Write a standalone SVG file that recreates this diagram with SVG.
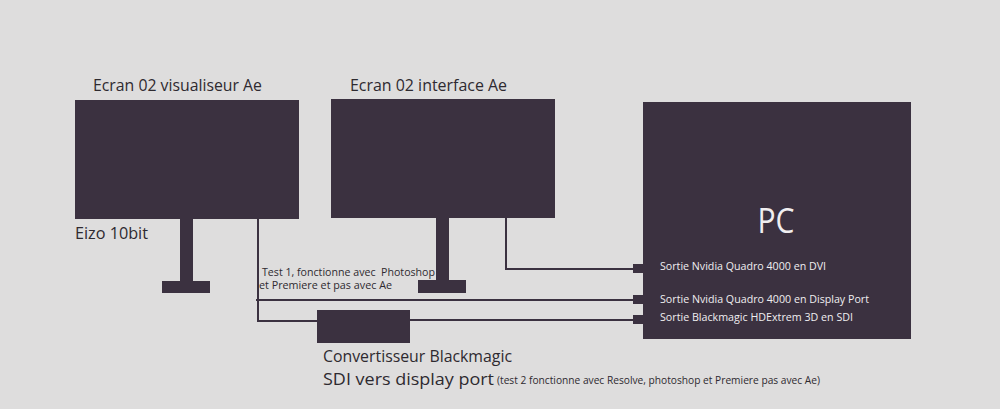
<svg xmlns="http://www.w3.org/2000/svg" width="1000" height="409" viewBox="0 0 1000 409">
<style>
.dk{fill:#3b3140}
.ln{stroke:#3b3140;stroke-width:2;fill:none}
.t{font-family:"Open Sans","Liberation Sans",sans-serif;fill:#2e2a30}
.w{font-family:"Open Sans","Liberation Sans",sans-serif;fill:#f0eef0}
</style>
<rect width="1000" height="409" fill="#dedddd"/>
<g id="connectors">
<polyline class="ln" points="506,218 506,269 634,269"/>
<polyline class="ln" points="256,300 634,300"/>
<polyline class="ln" points="258,219 258,321 318,321"/>
<polyline class="ln" points="409,320 634,320"/>
<rect class="dk" x="633" y="264" width="10" height="9"/>
<rect class="dk" x="633" y="295" width="10" height="9"/>
<rect class="dk" x="633" y="315" width="10" height="9"/>
</g>
<g id="ecran1">
<rect class="dk" x="75" y="100" width="224" height="119"/>
<rect class="dk" x="180" y="219" width="13" height="62"/>
<rect class="dk" x="162" y="281" width="48" height="12"/>
<text class="t" x="93" y="91" font-size="17" textLength="169" lengthAdjust="spacingAndGlyphs">Ecran 02 visualiseur Ae</text>
<text class="t" x="75" y="239" font-size="16" textLength="73" lengthAdjust="spacingAndGlyphs">Eizo 10bit</text>
</g>
<g id="ecran2">
<rect class="dk" x="331" y="99" width="224" height="119"/>
<rect class="dk" x="436" y="218" width="13" height="62"/>
<rect class="dk" x="418" y="280" width="48" height="13"/>
<text class="t" x="350" y="91" font-size="17" textLength="157" lengthAdjust="spacingAndGlyphs">Ecran 02 interface Ae</text>
</g>
<g id="test1">
<text class="t" x="262" y="276" font-size="11" textLength="173" lengthAdjust="spacingAndGlyphs" xml:space="preserve">Test 1, fonctionne avec  Photoshop</text>
<text class="t" x="259" y="289" font-size="11" textLength="133" lengthAdjust="spacingAndGlyphs">et Premiere et pas avec Ae</text>
</g>
<g id="convertisseur">
<rect class="dk" x="317" y="310" width="93" height="33"/>
<text class="t" x="323" y="362" font-size="16" textLength="189" lengthAdjust="spacingAndGlyphs">Convertisseur Blackmagic</text>
<text class="t" x="323" y="385" font-size="16" textLength="171" lengthAdjust="spacingAndGlyphs">SDI vers display port</text>
<text class="t" x="497" y="384" font-size="11" textLength="323" lengthAdjust="spacingAndGlyphs">(test 2 fonctionne avec Resolve, photoshop et Premiere pas avec Ae)</text>
</g>
<g id="pc">
<rect class="dk" x="643" y="102" width="268" height="237"/>
<text class="w" x="776" y="233" font-size="34" text-anchor="middle" textLength="37" lengthAdjust="spacingAndGlyphs">PC</text>
<text class="w" x="660" y="270" font-size="11" textLength="166" lengthAdjust="spacingAndGlyphs">Sortie Nvidia Quadro 4000 en DVI</text>
<text class="w" x="660" y="303" font-size="11" textLength="209" lengthAdjust="spacingAndGlyphs">Sortie Nvidia Quadro 4000 en Display Port</text>
<text class="w" x="660" y="321" font-size="11" textLength="193" lengthAdjust="spacingAndGlyphs">Sortie Blackmagic HDExtrem 3D en SDI</text>
</g>
</svg>
